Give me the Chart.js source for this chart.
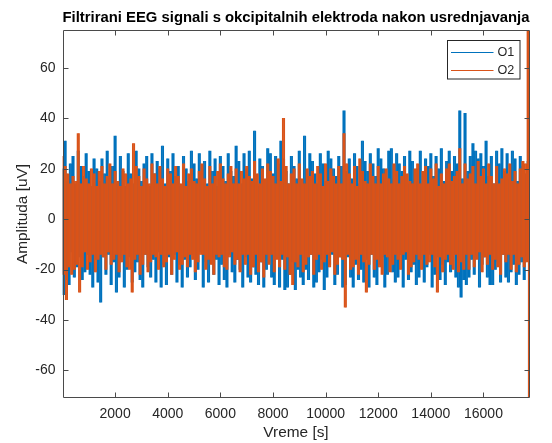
<!DOCTYPE html>
<html>
<head>
<meta charset="utf-8">
<script src="https://cdn.jsdelivr.net/npm/chart.js@4/dist/chart.umd.min.js"></script>
<style>
  html, body { margin: 0; padding: 0; background: #fff; }
  #wrap { width: 552px; height: 443px; }
</style>
</head>
<body>
<div id="wrap"><canvas id="c" width="552" height="443"></canvas></div>
<script>
const TITLE = 'Filtrirani EEG signali s okcipitalnih elektroda nakon usrednjavanja';
const X_LABEL = 'Vreme [s]';
const Y_LABEL = 'Amplituda [uV]';
const SERIES_LABELS = ['O1', 'O2'];
const X_TICKS = [2000, 4000, 6000, 8000, 10000, 12000, 14000, 16000];
const Y_TICKS = [-60, -40, -20, 0, 20, 40, 60];
const X_RANGE = [0, 17750];
const Y_RANGE = [-70.8, 74.9];
const SAMPLE_STEP = 50;

const O1 = [
  20, -30, 31, -24, 15, -26, 22, -13, 25, -23,
  14, -19, 27, -15, 21, -24, 17, -21, 26, -14,
  19, -22, 13, -27, 24, -16, 20, -25, 15, -33,
  24, -15, 18, -22, 27, -14, 16, -26, 21, -17,
  33, -29, 14, -23, 25, -16, 19, -27, 13, -20,
  26, -15, 18, -25, 14, -21, 27, -17, 20, -24,
  15, -27, 22, -14, 25, -19, 13, -23, 26, -16,
  18, -25, 23, -13, 20, -27, 29, -18, 14, -26,
  24, -15, 19, -22, 26, -14, 17, -25, 21, -18,
  13, -27, 25, -16, 20, -23, 15, -19, 27, -14,
  22, -24, 16, -20, 26, -13, 18, -27, 23, -17,
  14, -25, 27, -15, 19, -22, 24, -16, 13, -26,
  25, -18, 21, -24, 15, -27, 26, -14, 19, -21,
  17, -25, 29, -16, 23, -20, 14, -27, 26, -15,
  20, -23, 27, -25, 16, -19, 35, -22, 13, -26,
  24, -17, 21, -27, 15, -20, 28, -14, 26, -23,
  18, -26, 25, -15, 22, -27, 31, -16, 24, -28,
  19, -27, 14, -22, 25, -17, 21, -28, 16, -20,
  27, -23, 15, -26, 33, -20, 17, -24, 26, -14,
  23, -27, 18, -25, 14, -21, 26, -16, 22, -28,
  15, -23, 27, -18, 24, -14, 20, -26, 17, -22,
  25, -15, 21, -27, 43, -26, 19, -15, 24, -23,
  16, -27, 26, -18, 21, -24, 14, -20, 31, -25,
  23, -16, 19, -27, 26, -14, 22, -23, 17, -26,
  28, -18, 24, -15, 20, -27, 15, -22, 27, -17,
  28, -21, 16, -25, 26, -23, 22, -14, 19, -27,
  25, -16, 14, -24, 27, -21, 23, -18, 15, -26,
  20, -23, 27, -16, 14, -25, 24, -19, 21, -14,
  26, -27, 17, -22, 25, -15, 20, -24, 28, -18,
  15, -26, 23, -17, 27, -21, 19, -14, 25, -23,
  22, -27, 43, -31, 16, -24, 42, -26, 19, -23,
  25, -16, 30, -22, 27, -14, 24, -27, 26, -18,
  21, -15, 31, -23, 17, -26, 25, -26, 14, -20,
  27, -17, 22, -25, 28, -14, 19, -23, 26, -25,
  16, -21, 27, -18, 24, -26, 15, -22, 25, -17,
  21, -24, 18, -15, 23, -70.5
];

const O2 = [
  25, -22, 21, -32, 18, -19, 14, -22, 17, -20,
  15, -18, 34, -29, 14, -19, 21, -13, 16, -20,
  14, -17, 20, -14, 18, -21, 13, -16, 19, -14,
  21, -15, 14, -20, 17, -13, 22, -18, 14, -16,
  19, -14, 15, -21, 13, -17, 20, -14, 18, -19,
  14, -20, 16, -29, 30, -16, 21, -14, 17, -22,
  13, -18, 20, -14, 16, -21, 14, -17, 22, -14,
  18, -15, 14, -20, 21, -14, 16, -19, 13, -17,
  20, -14, 18, -22, 14, -16, 21, -13, 17, -20,
  14, -18, 22, -15, 13, -19, 18, -14, 20, -16,
  15, -21, 14, -17, 19, -14, 22, -14, 16, -20,
  13, -16, 21, -18, 14, -22, 17, -14, 19, -15,
  22, -14, 16, -19, 14, -20, 18, -15, 21, -13,
  14, -18, 20, -16, 14, -21, 19, -14, 16, -18,
  21, -14, 17, -22, 15, -19, 23, -14, 18, -21,
  14, -17, 20, -23, 16, -14, 22, -18, 19, -14,
  17, -21, 14, -16, 24, -19, 15, -14, 40, -20,
  21, -15, 14, -22, 18, -26, 20, -17, 14, -19,
  22, -14, 16, -21, 14, -18, 20, -15, 17, -14,
  19, -22, 14, -16, 21, -14, 18, -20, 13, -17,
  22, -14, 15, -19, 20, -13, 17, -22, 14, -18,
  21, -15, 14, -16, 34, -35, 22, -14, 18, -20,
  14, -19, 21, -16, 13, -22, 24, -14, 19, -17,
  15, -29, 14, -18, 22, -14, 17, -20, 14, -16,
  21, -19, 14, -22, 18, -14, 20, -15, 16, -21,
  14, -18, 22, -14, 19, -16, 14, -20, 17, -14,
  21, -13, 18, -22, 15, -19, 14, -17, 20, -14,
  22, -16, 14, -20, 19, -14, 21, -18, 14, -17,
  20, -14, 16, -19, 22, -29, 13, -15, 18, -21,
  14, -16, 20, -14, 22, -18, 15, -20, 17, -14,
  19, -21, 28, -17, 14, -20, 22, -14, 16, -20,
  18, -14, 21, -19, 14, -16, 23, -13, 17, -21,
  20, -15, 14, -18, 22, -14, 17, -20, 14, -16,
  21, -19, 14, -22, 16, -14, 20, -17, 18, -14,
  22, -20, 15, -14, 19, -21, 14, -18, 20, -15,
  23, -19, 22, -17, 74.9, -70.8
];

const COLORS = ['#0072BD', '#D95319'];
const TEXT_COLOR = '#262626';
const FONT = 'Liberation Sans, Arial, Helvetica, sans-serif';

// The trace between two consecutive samples sweeps the vertical range [v_k, v_k+1];
// draw that swept range as a thin floating column so the dense signal renders solid.
function toColumns(arr) {
  return arr.slice(0, -1).map((v, k) => ({ x: (k + 0.5) * SAMPLE_STEP, y: [v, arr[k + 1]] }));
}

// Frame, inward ticks (MATLAB style) and the boxed legend
const matlabAxes = {
  id: 'matlabAxes',
  afterDatasetsDraw(chart) {
    const { ctx, chartArea: a, scales: { x, y } } = chart;
    ctx.save();
    ctx.strokeStyle = '#4a4a4a';
    ctx.lineWidth = 1;
    ctx.beginPath();
    const L = Math.round(a.left) + 0.5, R = Math.round(a.right) - 0.5;
    const T = Math.round(a.top) + 0.5, B = Math.round(a.bottom) - 0.5;
    ctx.rect(L, T, R - L, B - T);
    const tl = 5;
    X_TICKS.forEach(v => {
      const px = Math.round(x.getPixelForValue(v)) + 0.5;
      ctx.moveTo(px, B); ctx.lineTo(px, B - tl);
      ctx.moveTo(px, T); ctx.lineTo(px, T + tl);
    });
    Y_TICKS.forEach(v => {
      const py = Math.round(y.getPixelForValue(v)) + 0.5;
      ctx.moveTo(L, py); ctx.lineTo(L + tl, py);
      ctx.moveTo(R, py); ctx.lineTo(R - tl, py);
    });
    ctx.stroke();

    // legend box
    const bw = 72.5, bh = 38.5;
    const bx = Math.round(a.right - 10 - bw) + 0.5;
    const by = Math.round(a.top + 10) + 0.5;
    ctx.fillStyle = '#fff';
    ctx.fillRect(bx, by, bw, bh);
    ctx.strokeStyle = '#262626';
    ctx.strokeRect(bx, by, bw, bh);
    ctx.font = '12.6px ' + FONT;
    ctx.textBaseline = 'middle';
    ctx.textAlign = 'left';
    chart.data.datasets.forEach((ds, i) => {
      const ly = by + 11.5 + i * 18;
      ctx.strokeStyle = ds.borderColor;
      ctx.lineWidth = 1;
      ctx.beginPath();
      ctx.moveTo(bx + 3.5, Math.round(ly) + 0.5);
      ctx.lineTo(bx + 46, Math.round(ly) + 0.5);
      ctx.stroke();
      ctx.fillStyle = TEXT_COLOR;
      ctx.fillText(ds.label, bx + 50, ly + 1);
    });
    ctx.restore();
  }
};

new Chart(document.getElementById('c'), {
  type: 'bar',
  data: {
    datasets: [
      { label: SERIES_LABELS[0], data: toColumns(O1), borderColor: COLORS[0], backgroundColor: COLORS[0],
        borderWidth: 0, grouped: false, barPercentage: 0.9, categoryPercentage: 1, inflateAmount: 0.3, order: 2 },
      { label: SERIES_LABELS[1], data: toColumns(O2), borderColor: COLORS[1], backgroundColor: COLORS[1],
        borderWidth: 0, grouped: false, barPercentage: 0.9, categoryPercentage: 1, inflateAmount: 0.3, order: 1 }
    ]
  },
  options: {
    responsive: false,
    animation: false,
    events: [],
    layout: { padding: { left: 0, right: 22.5, top: 0, bottom: 0 } },
    scales: {
      x: {
        type: 'linear',
        offset: false,
        min: X_RANGE[0], max: X_RANGE[1],
        afterBuildTicks: s => { s.ticks = X_TICKS.map(v => ({ value: v })); },
        afterFit: s => { s.height = 45.5; },
        grid: { display: false, drawTicks: false },
        border: { display: false },
        ticks: { color: TEXT_COLOR, font: { family: FONT, size: 14 }, padding: 8, maxRotation: 0,
                 autoSkip: false, callback: v => String(v) },
        title: { display: true, text: X_LABEL, color: TEXT_COLOR,
                 font: { family: FONT, size: 15.4 }, padding: { top: 0, bottom: 1 } }
      },
      y: {
        type: 'linear',
        min: Y_RANGE[0], max: Y_RANGE[1],
        afterBuildTicks: s => { s.ticks = Y_TICKS.map(v => ({ value: v })); },
        afterFit: s => { s.width = 62.5; },
        grid: { display: false, drawTicks: false },
        border: { display: false },
        ticks: { color: TEXT_COLOR, font: { family: FONT, size: 14 }, padding: 7,
                 autoSkip: false, callback: v => String(v) },
        title: { display: true, text: Y_LABEL, color: TEXT_COLOR,
                 font: { family: FONT, size: 15.4 }, padding: { top: 14, bottom: 0 } }
      }
    },
    plugins: {
      legend: { display: false },
      tooltip: { enabled: false },
      title: {
        display: true, text: TITLE, fullSize: false, color: '#000',
        font: { family: FONT, size: 15.4, weight: 'bold', lineHeight: 1.2 },
        padding: { top: 8.7, bottom: 3.3 }
      }
    }
  },
  plugins: [matlabAxes]
});
</script>
</body>
</html>
